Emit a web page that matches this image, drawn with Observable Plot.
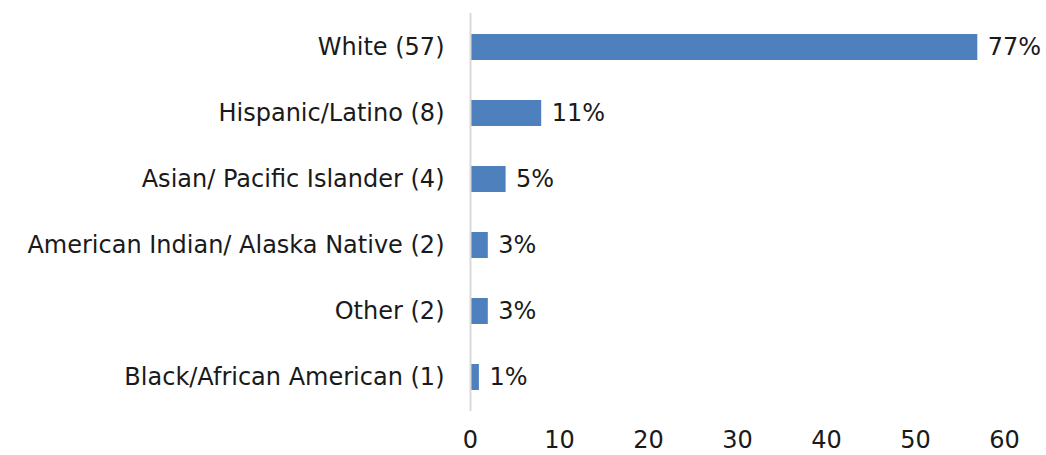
<!DOCTYPE html>
<html>
<head>
<meta charset="utf-8">
<script src="https://cdn.jsdelivr.net/npm/d3@7"></script>
<script src="https://cdn.jsdelivr.net/npm/@observablehq/plot@0.6"></script>
<style>
  html, body { margin: 0; padding: 0; background: #fff; }
  #chart svg { display: block; }
</style>
</head>
<body>
<div id="chart"></div>
<script>
const categories = [
  "White (57)",
  "Hispanic/Latino (8)",
  "Asian/ Pacific Islander (4)",
  "American Indian/ Alaska Native (2)",
  "Other (2)",
  "Black/African American (1)"
];
const counts = [57, 8, 4, 2, 2, 1];
const percentLabels = ["77%", "11%", "5%", "3%", "3%", "1%"];
const xTicks = [0, 10, 20, 30, 40, 50, 60];

const data = categories.map((c, i) => ({category: c, count: counts[i], label: percentLabels[i]}));

const fontFamily = "'DejaVu Sans', sans-serif";

const chart = Plot.plot({
  width: 1046,
  height: 455,
  marginTop: 13,
  marginBottom: 44,
  marginLeft: 470,
  marginRight: 42,
  style: {fontFamily, fontSize: "24px", color: "#1a1a1a", background: "#fff"},
  x: {domain: [0, 60], ticks: xTicks, label: null},
  y: {domain: categories, label: null, paddingInner: 0.6, paddingOuter: 0.3},
  marks: [
    Plot.barX(data, {x: "count", y: "category", fill: "#4e80bd"}),
    Plot.ruleX([0], {stroke: "#d9d9d9", strokeWidth: 2}),
    Plot.text(data, {x: "count", y: "category", text: "label", textAnchor: "start", dx: 10, fontSize: 24, fill: "#1a1a1a"}),
    Plot.axisX({ticks: xTicks, tickSize: 0, tickPadding: 19, label: null, fontSize: 24, fill: "#1a1a1a"}),
    Plot.axisY({tickSize: 0, tickPadding: 26, label: null, fontSize: 24, fill: "#1a1a1a"})
  ]
});
document.getElementById("chart").appendChild(chart);
</script>
</body>
</html>
